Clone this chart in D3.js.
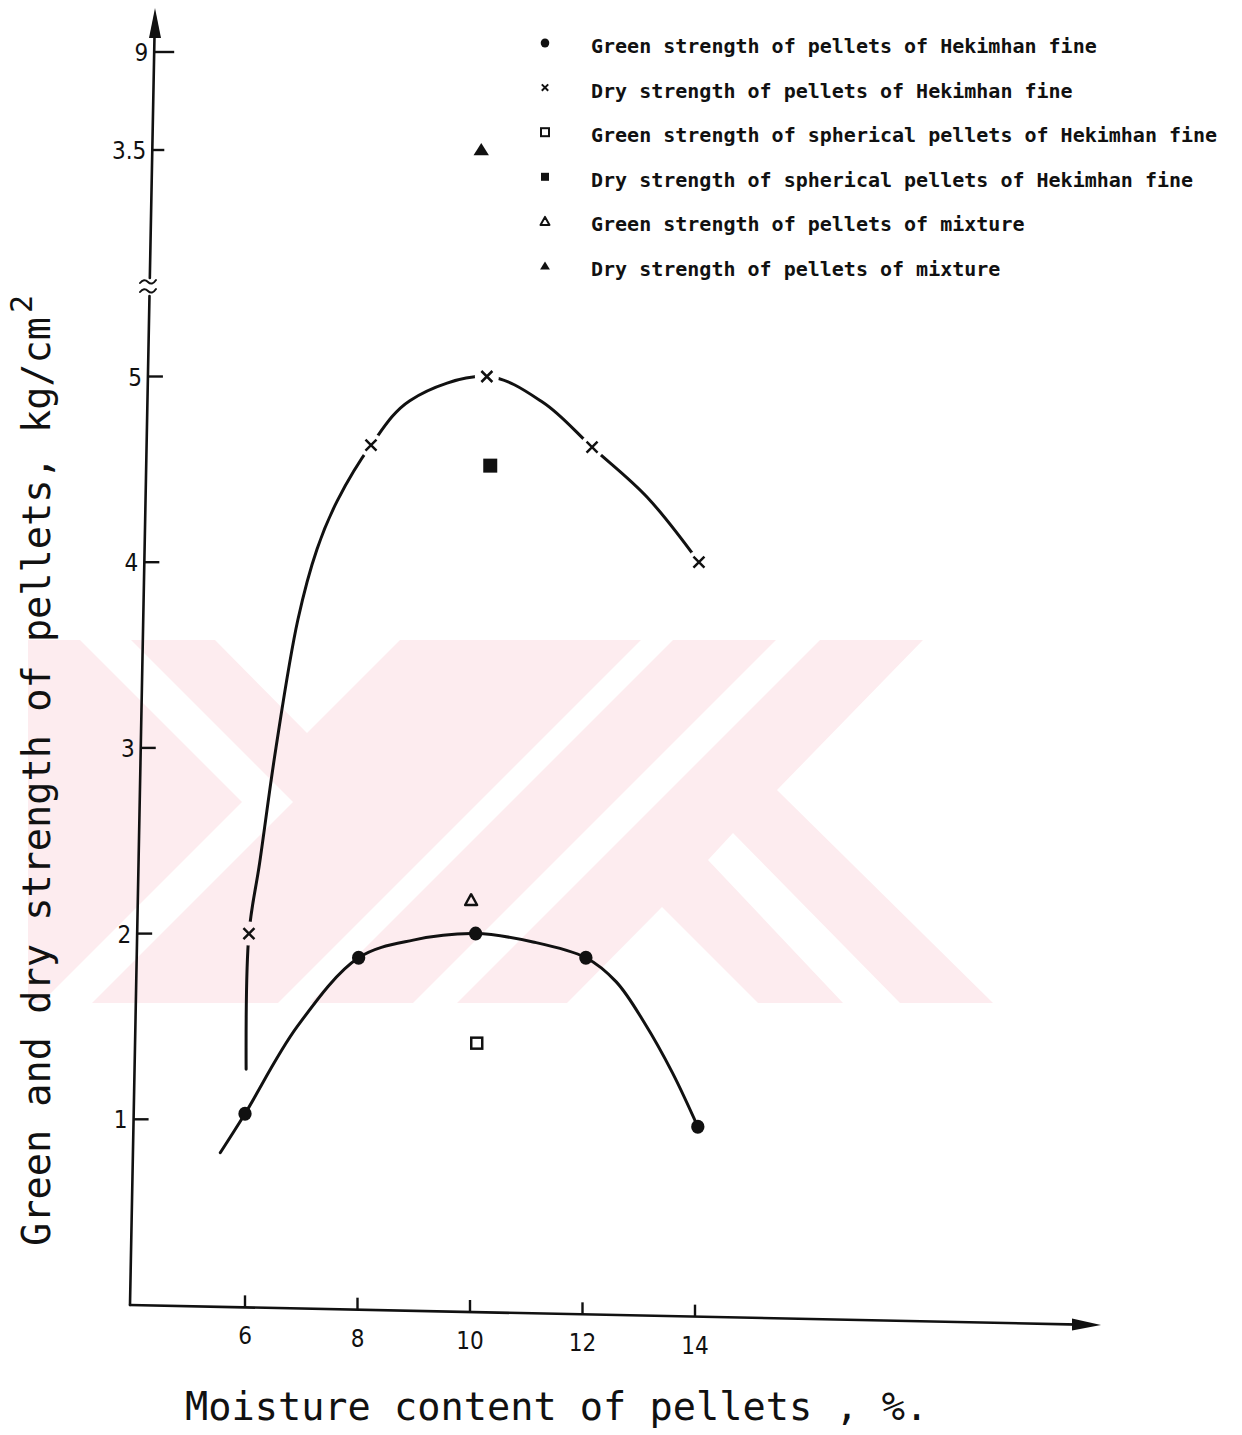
<!DOCTYPE html>
<html><head><meta charset="utf-8">
<script src="https://cdn.jsdelivr.net/npm/d3@7"></script>
<style>body{margin:0;background:#fff}</style>
</head><body>
<svg id="chart" width="1242" height="1435"></svg>
<script>
// ---------------- data ----------------
const xTicks = [6, 8, 10, 12, 14];
const yTicks = [1, 2, 3, 4, 5];
const upperTicks = ["3.5", "9"];

const greenX = [6.0, 8.02, 10.1, 12.06, 14.05];
const greenY = [1.03, 1.87, 2.0, 1.87, 0.96];
const dryX = [6.07, 8.24, 10.3, 12.17, 14.07];
const dryY = [2.0, 4.63, 5.0, 4.62, 4.0];
const greenSphX = [10.12];
const greenSphY = [1.41];
const drySphX = [10.36];
const drySphY = [4.52];
const greenMixX = [10.02];
const greenMixY = [2.18];
const dryMixX = [10.2];
const dryMixY = ["3.5"];

const greenCurveX = [5.56, 6.0, 6.93, 8.02, 8.99, 10.1, 11.12, 12.06, 12.6, 13.1, 13.6, 14.05];
const greenCurveY = [0.82, 1.03, 1.50, 1.87, 1.965, 2.0, 1.955, 1.87, 1.74, 1.52, 1.25, 0.96];
const dryCurveX = [6.02, 6.07, 6.26, 6.55, 6.94, 7.28, 7.64, 8.24, 8.93, 10.3, 11.3, 12.17, 13.15, 14.07];
const dryCurveY = [1.27, 2.0, 2.38, 3.0, 3.69, 4.07, 4.33, 4.63, 4.87, 5.0, 4.86, 4.62, 4.35, 4.0];

const legendLabels = [
  "Green strength of pellets of Hekimhan fine",
  "Dry strength of pellets of Hekimhan fine",
  "Green strength of spherical pellets of Hekimhan fine",
  "Dry strength of spherical pellets of Hekimhan fine",
  "Green strength of pellets of mixture",
  "Dry strength of pellets of mixture"
];
const legendTypes = ["dot", "x", "squareOpen", "square", "triOpen", "tri"];

const xTitle = "Moisture content of pellets , %.";
const yTitle = "Green and dry strength of pellets, kg/cm";

// ---------------- setup ----------------
const svg = d3.select("#chart");
const INK = "#111";
const PINK = "#fdecef";

// watermark (faint background logo)
const wm = svg.append("g");
wm.append("clipPath").attr("id", "wmclip").append("rect")
  .attr("x", 28).attr("y", 640).attr("width", 967).attr("height", 363);
const wmg = wm.append("g").attr("clip-path", "url(#wmclip)");
wmg.append("rect").attr("x", 28).attr("y", 640).attr("width", 967).attr("height", 363).attr("fill", PINK);
const whiteShapes = [
  [[80,640],[131,640],[293,802],[92,1003],[41,1003],[242,802]],
  [[215,640],[400,640],[307,733]],
  [[641,640],[673,640],[310,1003],[278,1003]],
  [[776,640],[820,640],[457,1003],[413,1003]],
  [[662,907],[758,1003],[567,1003]],
  [[708,860],[733,833],[900,1003],[843,1003]],
  [[923,640],[1000,640],[1000,1003],[993,1003],[777,790]]
];
wmg.selectAll("polygon").data(whiteShapes).join("polygon")
  .attr("points", d => d.map(p => p.join(",")).join(" "))
  .attr("fill", "#fff");

// scales
const x = d3.scaleLinear().domain([4, 14]).range([132.5, 695]);
const y = d3.scaleLinear().domain([0, 5]).range([1305, 376.5]);
const yUp = d3.scalePoint().domain(upperTicks).range([150, 52]);
// slight tilt of the hand-drawn axes
const yAxisX = d3.scaleLinear().domain([1305, 10]).range([130, 155]);
const xAxisY = d3.scaleLinear().domain([130, 1100]).range([1305, 1325]);

// ---------------- axes ----------------
const ax = svg.append("g").attr("stroke", INK).attr("fill", "none").attr("stroke-width", 2.6).attr("stroke-linecap", "round");
ax.append("path").attr("d", `M${yAxisX(1305)},1305 L${yAxisX(296)},296 M${yAxisX(278)},278 L${yAxisX(30)},30`);
// break marks
ax.append("path").attr("stroke-width", 2)
  .attr("d", `M140,283 q4,-5 8,-1 t8,-2 M140,292 q4,-5 8,-1 t8,-2`);
// y arrow
svg.append("path").attr("fill", INK)
  .attr("d", `M155,8 L161,38 L149,38 Z`);
// x axis
ax.append("path").attr("d", `M130,1305 L1080,${xAxisY(1080)}`);
svg.append("path").attr("fill", INK)
  .attr("d", `M1101,${xAxisY(1101)} L1072,${xAxisY(1072)-6} L1072,${xAxisY(1072)+6} Z`);

// y ticks
const tickFont = "'DejaVu Sans Condensed','DejaVu Sans',sans-serif";
const yt = svg.append("g");
yTicks.forEach(v => {
  const py = y(v), px = yAxisX(py);
  yt.append("line").attr("x1", px).attr("x2", px + 15).attr("y1", py).attr("y2", py)
    .attr("stroke", INK).attr("stroke-width", 2.4);
  yt.append("text").attr("x", px - 6).attr("y", py + 9).attr("text-anchor", "end")
    .attr("font-family", tickFont).attr("font-size", 24).attr("fill", INK).text(v);
});
upperTicks.forEach((v, i) => {
  const py = yUp(v), px = yAxisX(py);
  yt.append("line").attr("x1", px).attr("x2", px + (i === 1 ? 20 : 12)).attr("y1", py).attr("y2", py)
    .attr("stroke", INK).attr("stroke-width", 2.4);
  yt.append("text").attr("x", px - 6).attr("y", py + 9).attr("text-anchor", "end")
    .attr("font-family", tickFont).attr("font-size", 24).attr("fill", INK).text(v);
});
// x ticks
xTicks.forEach(v => {
  const px = x(v), py = xAxisY(px);
  yt.append("line").attr("x1", px).attr("x2", px).attr("y1", py).attr("y2", py - 12)
    .attr("stroke", INK).attr("stroke-width", 2.4);
  yt.append("text").attr("x", px).attr("y", py + 37).attr("text-anchor", "middle")
    .attr("font-family", tickFont).attr("font-size", 24).attr("fill", INK).text(v);
});

// titles
const monoFont = "'DejaVu Sans Mono',monospace";
svg.append("text").attr("x", 185).attr("y", 1420)
  .attr("font-family", monoFont).attr("font-size", 38.6).attr("fill", INK).text(xTitle);
const yl = svg.append("text").attr("transform", "translate(50,1246) rotate(-90)")
  .attr("font-family", monoFont).attr("font-size", 38.6).attr("fill", INK);
yl.append("tspan").text(yTitle);
yl.append("tspan").attr("dy", -18).attr("dx", 4).attr("font-size", 30).text("2");

// ---------------- markers ----------------
function marker(g, type, cx, cy, s) {
  if (type === "dot") {
    g.append("ellipse").attr("cx", cx).attr("cy", cy).attr("rx", s * 0.95).attr("ry", s).attr("fill", INK);
  } else if (type === "x") {
    g.append("path").attr("d", `M${cx - s},${cy - s} L${cx + s},${cy + s} M${cx + s},${cy - s} L${cx - s},${cy + s}`)
      .attr("stroke", INK).attr("stroke-width", Math.max(2, s * 0.45)).attr("fill", "none");
  } else if (type === "squareOpen") {
    g.append("rect").attr("x", cx - s).attr("y", cy - s).attr("width", 2 * s).attr("height", 2 * s)
      .attr("fill", "none").attr("stroke", INK).attr("stroke-width", Math.max(2, s * 0.45));
  } else if (type === "square") {
    g.append("rect").attr("x", cx - s).attr("y", cy - s).attr("width", 2 * s).attr("height", 2 * s).attr("fill", INK);
  } else if (type === "triOpen") {
    g.append("path").attr("d", `M${cx},${cy - s} L${cx + s},${cy + s * 0.8} L${cx - s},${cy + s * 0.8} Z`)
      .attr("fill", "none").attr("stroke", INK).attr("stroke-width", Math.max(2, s * 0.4)).attr("stroke-linejoin", "round");
  } else if (type === "tri") {
    g.append("path").attr("d", `M${cx},${cy - s} L${cx + s * 1.1},${cy + s * 0.75} L${cx - s * 1.1},${cy + s * 0.75} Z`)
      .attr("fill", INK);
  }
}

// ---------------- curves ----------------
const zip = (a, b) => a.map((v, i) => [v, b[i]]);
const line = d3.line().x(d => x(d[0])).y(d => y(d[1])).curve(d3.curveCatmullRom.alpha(0.5));

const mask = svg.append("mask").attr("id", "gaps").attr("maskUnits", "userSpaceOnUse")
  .attr("x", 0).attr("y", 0).attr("width", 1242).attr("height", 1435);
mask.append("rect").attr("width", 1242).attr("height", 1435).attr("fill", "#fff");
zip(dryX, dryY).forEach(d => mask.append("circle").attr("cx", x(d[0])).attr("cy", y(d[1])).attr("r", 12).attr("fill", "#000"));

svg.append("path").datum(zip(greenCurveX, greenCurveY)).attr("d", line)
  .attr("fill", "none").attr("stroke", INK).attr("stroke-width", 3).attr("stroke-linecap", "round");
svg.append("path").datum(zip(dryCurveX, dryCurveY)).attr("d", line).attr("mask", "url(#gaps)")
  .attr("fill", "none").attr("stroke", INK).attr("stroke-width", 3).attr("stroke-linecap", "round");

const mk = svg.append("g");
zip(greenX, greenY).forEach(d => marker(mk, "dot", x(d[0]), y(d[1]), 7));
zip(dryX, dryY).forEach(d => marker(mk, "x", x(d[0]), y(d[1]), 5.5));
zip(greenSphX, greenSphY).forEach(d => marker(mk, "squareOpen", x(d[0]), y(d[1]), 5.5));
zip(drySphX, drySphY).forEach(d => marker(mk, "square", x(d[0]), y(d[1]), 7));
zip(greenMixX, greenMixY).forEach(d => marker(mk, "triOpen", x(d[0]), y(d[1]), 6));
zip(dryMixX, dryMixY).forEach(d => marker(mk, "tri", x(d[0]), yUp(d[1]), 7));

// ---------------- legend ----------------
const ly = d3.scalePoint().domain(legendLabels).range([47, 270]);
const lg = svg.append("g");
legendLabels.forEach((lab, i) => {
  const cy = ly(lab);
  const t = legendTypes[i];
  const s = t === "dot" ? 4.5 : (t === "x" ? 3.2 : (t === "tri" || t === "triOpen" ? 4.5 : 4));
  marker(lg, t, 545, cy - 4, s);
  lg.append("text").attr("x", 591).attr("y", cy + 6)
    .attr("font-family", monoFont).attr("font-weight", "bold").attr("font-size", 20).attr("fill", INK).text(lab);
});
</script>
</body></html>
